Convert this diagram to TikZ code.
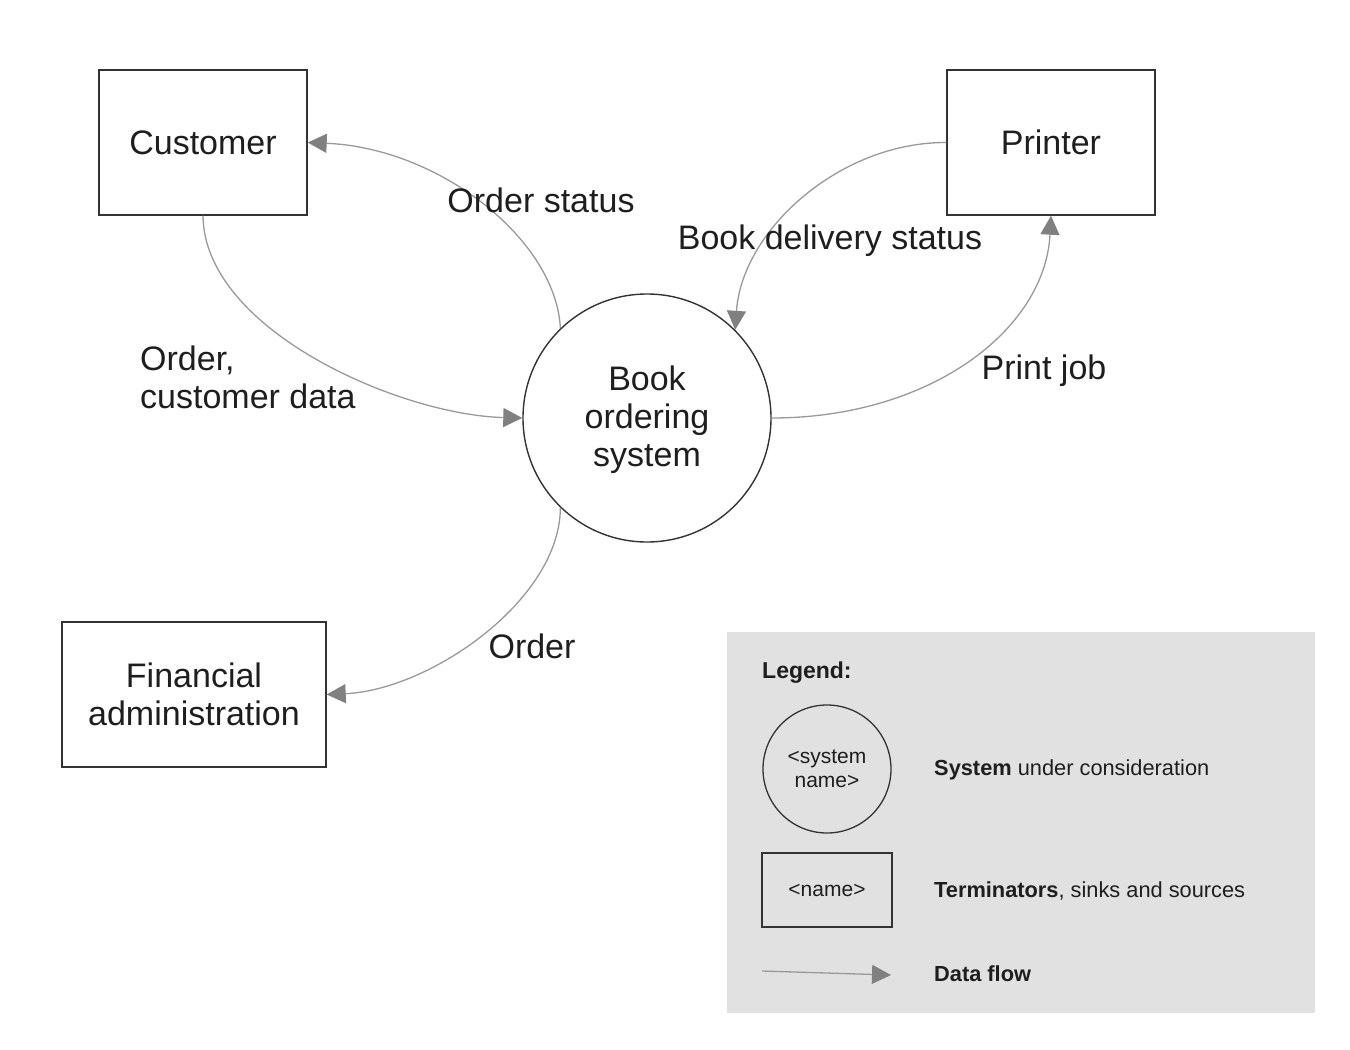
\documentclass[tikz,border=0pt]{standalone}
\usepackage{fontspec}
\setmainfont{Liberation Sans}
\usetikzlibrary{arrows.meta}
\definecolor{txt}{HTML}{1E1E1E}
\definecolor{edge}{HTML}{333333}
\definecolor{flowc}{HTML}{999999}
\definecolor{tipc}{HTML}{808080}
\definecolor{legbg}{HTML}{E1E1E1}
\tikzset{
  term/.style={draw=edge, line width=1.4pt, fill=white, minimum width=208pt, minimum height=145pt, align=center, inner sep=0pt, text=txt, font=\fontsize{34}{38}\selectfont},
  sysc/.style={draw=edge, line width=1.4pt, fill=white, circle, minimum size=248pt, align=center, inner sep=0pt, text=txt, font=\fontsize{34}{38}\selectfont},
  lbl/.style={text=txt, font=\fontsize{34}{38}\selectfont, inner sep=0pt},
  flow/.style={draw=flowc, line width=1.3pt, -{Triangle[length=19pt,width=19pt,color=tipc]}},
  legendbox/.style={fill=legbg, draw=none, minimum width=588pt, minimum height=381pt, inner sep=0pt},
  legtxt/.style={text=txt, font=\fontsize{21.8}{24}\selectfont, inner sep=0pt, anchor=west},
}
\begin{document}
\begin{tikzpicture}[x=1pt,y=-1pt]
\useasboundingbox (0,0) rectangle (1350,1050);
% legend background
\node[legendbox] (legend) at (1021,822.5) {};
% main nodes
\node[term] (cust) at (203,142.5) {Customer};
\node[term] (prn) at (1051,142.5) {Printer};
\node[term, minimum width=264pt] (fin) at (194,694.5) {Financial\\administration};
\node[sysc] (sys) at (647,418) {};
\node[lbl, align=center] (systxt) at (647,420) {Book\\ordering\\system};
% connectors
\draw[flow] (cust.south) .. controls (204,330) and (400,415) .. (sys.west);
\draw[flow] (sys.134) .. controls (556,240) and (440,148) .. (cust.east);
\draw[flow] (prn.west) .. controls (840,142) and (742,230) .. (sys.45);
\draw[flow] (sys.east) .. controls (930,418) and (1045,330) .. (prn.south);
\draw[flow] (sys.226) .. controls (560,600) and (430,690) .. (fin.east);
% labels
\node[lbl] (lstatus) at (541,200) {Order status};
\node[lbl, anchor=west, align=left] (lorder) at (140,377) {Order,\\customer data};
\node[lbl] (ldeliv) at (830,241) {Book delivery status};
\node[lbl] (lprint) at (1044,371) {Print job};
\node[lbl] (lfin) at (532,646) {Order};
% legend content
\node[legtxt, font=\fontsize{23}{26}\selectfont\bfseries] (lgtitle) at (762,673) {Legend:};
\node[draw=edge, line width=1.3pt, circle, minimum size=128pt, inner sep=0pt, align=center, text=txt, font=\fontsize{21}{24}\selectfont] (lgsys) at (827,769) {<system\\name>};
\node[draw=edge, line width=1.3pt, minimum width=130pt, minimum height=74pt, inner sep=0pt, text=txt, font=\fontsize{21}{24}\selectfont] (lgterm) at (827,890) {<name>};
\coordinate (lga) at (762,971);
\coordinate (lgb) at (891,975);
\draw[flow] (lga) -- (lgb);
\node[legtxt] (lgt1) at (934,770) {\textbf{System} under consideration};
\node[legtxt] (lgt2) at (934,891) {\textbf{Terminators}, sinks and sources};
\node[legtxt] (lgt3) at (934,974) {\textbf{Data flow}};
\end{tikzpicture}
\end{document}
